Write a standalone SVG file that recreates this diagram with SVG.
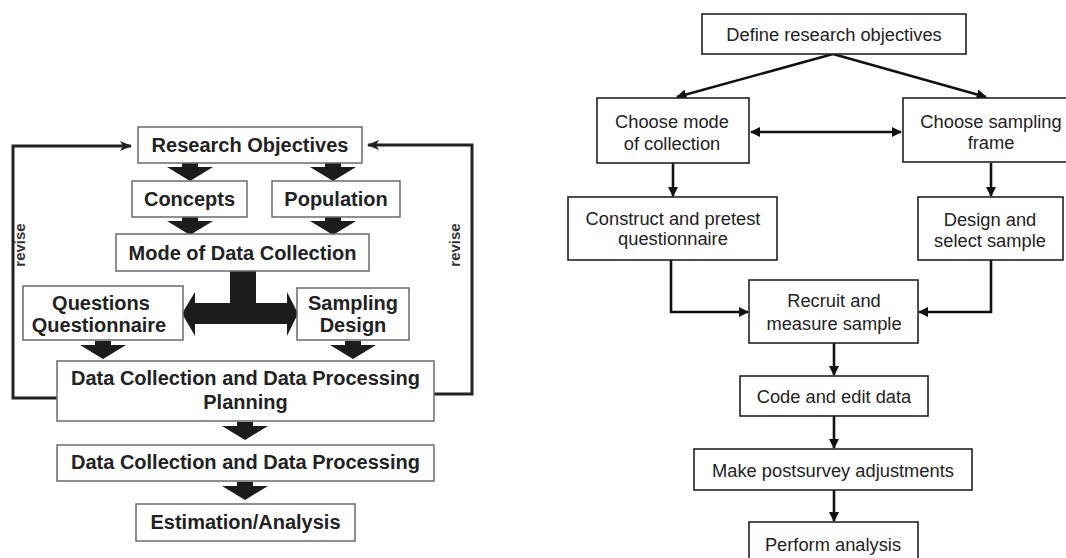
<svg xmlns="http://www.w3.org/2000/svg" xmlns:xlink="http://www.w3.org/1999/xlink" width="1066" height="558" viewBox="0 0 1066 558">
<style>
.lbox{fill:#fff;stroke:#6a6a6a;stroke-width:1.5}
.ltxt{font-family:"Liberation Sans",Arial,sans-serif;font-weight:bold;font-size:20px;fill:#222;text-anchor:middle}
.rev{font-family:"Liberation Sans",Arial,sans-serif;font-weight:bold;font-size:15px;fill:#333;text-anchor:middle}
.rbox{fill:#fff;stroke:#222;stroke-width:1.6}
.rtxt{font-family:"Liberation Sans",Arial,sans-serif;font-size:18.3px;fill:#222;text-anchor:middle}
.loop{fill:none;stroke:#222;stroke-width:3}
.conn{fill:none;stroke:#111;stroke-width:2.6}
.blk{fill:#1c1c1c}
</style>
<defs>
<path id="barrow" d="M-8,0 L8,0 L8,4 L23,4 L0,18 L-23,4 L-8,4 Z"/>
<marker id="ah" viewBox="0 0 10 10" refX="9" refY="5" markerWidth="4" markerHeight="4" orient="auto-start-reverse" markerUnits="strokeWidth">
<path d="M0,0 L10,5 L0,10 Z" fill="#111"/>
</marker>
<marker id="lah" viewBox="0 0 12 10" refX="11" refY="5" markerWidth="4" markerHeight="3.4" orient="auto" markerUnits="strokeWidth">
<path d="M0,0 L12,5 L0,10 L3,5 Z" fill="#222"/>
</marker>
</defs>
<rect width="1066" height="558" fill="#fff"/>

<g id="connectors">
<path class="loop" d="M57,398 L13,398 L13,146 L131,146" marker-end="url(#lah)"/>
<path class="loop" d="M434,394 L472,394 L472,145 L368,145" marker-end="url(#lah)"/>
<use href="#barrow" class="blk" x="190" y="163"/>
<use href="#barrow" class="blk" x="333" y="163"/>
<use href="#barrow" class="blk" x="190" y="217"/>
<use href="#barrow" class="blk" x="333" y="217"/>
<use href="#barrow" class="blk" x="103" y="341"/>
<use href="#barrow" class="blk" x="353" y="341"/>
<use href="#barrow" class="blk" x="245" y="422"/>
<use href="#barrow" class="blk" x="245" y="482"/>
<path class="blk" d="M230,271 L256,271 L256,303 L287,303 L287,292 L298,313.5 L287,336 L287,324 L195,324 L195,336 L182,313.5 L195,292 L195,303 L230,303 Z"/>

<path class="conn" d="M833,54 L677,97" marker-end="url(#ah)"/>
<path class="conn" d="M833,54 L986,97" marker-end="url(#ah)"/>
<path class="conn" d="M751,132 L901,132" marker-start="url(#ah)" marker-end="url(#ah)"/>
<path class="conn" d="M673,163 L673,196" marker-end="url(#ah)"/>
<path class="conn" d="M991,163 L991,196" marker-end="url(#ah)"/>
<path class="conn" d="M671,260 L671,312 L748,312" marker-end="url(#ah)"/>
<path class="conn" d="M991,260 L991,312 L919,312" marker-end="url(#ah)"/>
<path class="conn" d="M834,343 L834,375" marker-end="url(#ah)"/>
<path class="conn" d="M834,416 L834,448" marker-end="url(#ah)"/>
<path class="conn" d="M834,490 L834,521" marker-end="url(#ah)"/>
</g>

<text class="rev" transform="translate(25,245) rotate(-90)">revise</text>
<text class="rev" transform="translate(460,245) rotate(-90)">revise</text>

<g id="research-objectives"><rect class="lbox" x="138" y="127" width="224" height="36"/><text class="ltxt" x="250" y="152">Research Objectives</text></g>
<g id="concepts"><rect class="lbox" x="132" y="181" width="115" height="36"/><text class="ltxt" x="189.5" y="206">Concepts</text></g>
<g id="population"><rect class="lbox" x="272" y="181" width="128" height="36"/><text class="ltxt" x="336" y="206">Population</text></g>
<g id="mode-of-data-collection"><rect class="lbox" x="116" y="234" width="253" height="37"/><text class="ltxt" x="242.5" y="259.5">Mode of Data Collection</text></g>
<g id="questions-questionnaire"><rect class="lbox" x="23" y="286" width="160" height="54"/><text class="ltxt" x="101" y="310">Questions</text><text class="ltxt" x="99" y="332">Questionnaire</text></g>
<g id="sampling-design"><rect class="lbox" x="297" y="288" width="112" height="52"/><text class="ltxt" x="353" y="310">Sampling</text><text class="ltxt" x="353" y="332">Design</text></g>
<g id="planning"><rect class="lbox" x="57" y="361" width="377" height="60"/><text class="ltxt" x="245.5" y="385">Data Collection and Data Processing</text><text class="ltxt" x="245.5" y="409">Planning</text></g>
<g id="data-collection-processing"><rect class="lbox" x="57" y="445" width="377" height="36"/><text class="ltxt" x="245.5" y="469">Data Collection and Data Processing</text></g>
<g id="estimation-analysis"><rect class="lbox" x="136" y="504" width="219" height="37"/><text class="ltxt" x="245.5" y="529">Estimation/Analysis</text></g>

<g id="define-objectives"><rect class="rbox" x="702" y="14" width="264" height="40"/><text class="rtxt" x="834" y="41">Define research objectives</text></g>
<g id="choose-mode"><rect class="rbox" x="597" y="98" width="152" height="65"/><text class="rtxt" x="672" y="128">Choose mode</text><text class="rtxt" x="672" y="150">of collection</text></g>
<g id="choose-frame"><rect class="rbox" x="903" y="98" width="170" height="64"/><text class="rtxt" x="991" y="128">Choose sampling</text><text class="rtxt" x="991" y="149">frame</text></g>
<g id="construct-questionnaire"><rect class="rbox" x="568" y="197" width="209" height="63"/><text class="rtxt" x="673" y="225">Construct and pretest</text><text class="rtxt" x="673" y="245">questionnaire</text></g>
<g id="design-sample"><rect class="rbox" x="918" y="197" width="145" height="63"/><text class="rtxt" x="990" y="226">Design and</text><text class="rtxt" x="990" y="247">select sample</text></g>
<g id="recruit-measure"><rect class="rbox" x="749" y="280" width="169" height="63"/><text class="rtxt" x="834" y="307">Recruit and</text><text class="rtxt" x="834" y="330">measure sample</text></g>
<g id="code-edit"><rect class="rbox" x="740" y="376" width="188" height="40"/><text class="rtxt" x="834" y="403">Code and edit data</text></g>
<g id="postsurvey"><rect class="rbox" x="694" y="449" width="278" height="41"/><text class="rtxt" x="833" y="477">Make postsurvey adjustments</text></g>
<g id="perform-analysis"><rect class="rbox" x="749" y="522" width="169" height="50"/><text class="rtxt" x="833" y="551">Perform analysis</text></g>
</svg>
